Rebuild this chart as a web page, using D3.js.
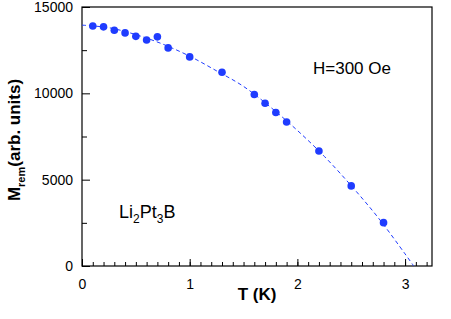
<!DOCTYPE html>
<html>
<head>
<meta charset="utf-8">
<script src="https://cdn.jsdelivr.net/npm/d3@7"></script>
<style>
  body { margin: 0; background: #fff; }
  svg { display: block; font-family: "Liberation Sans", Arial, sans-serif; }
  .axis path, .axis line { stroke: #000; }
  .axis text { font-size: 14px; fill: #000; }
</style>
</head>
<body>
<script>
// measured points
const temps = [0.1, 0.2, 0.3, 0.4, 0.5, 0.6, 0.7, 0.8, 1.0, 1.3, 1.6, 1.7, 1.8, 1.9, 2.2, 2.5, 2.8]
const mrem = [13900, 13850, 13650, 13500, 13300, 13090, 13270, 12630, 12110, 11220, 9930, 9430, 8890, 8340, 6660, 4640, 2510]
// dashed fit curve
const fitT = [0, 0.25, 0.5, 0.75, 1.0, 1.25, 1.5, 1.75, 2.0, 2.25, 2.5, 2.75, 3.0, 3.08]
const fitM = [13950, 13800, 13400, 12850, 12150, 11300, 10400, 9200, 7850, 6350, 4650, 2800, 700, 0]
const xTicks = [0, 1, 2, 3]
const yTicks = [0, 5000, 10000, 15000]

const width = 451, height = 319
const margin = { top: 7, right: 19, bottom: 53, left: 82 }
const w = width - margin.left - margin.right
const h = height - margin.top - margin.bottom
const blue = '#1f3cff'

const svg = d3.select('body').append('svg')
  .attr('width', width).attr('height', height)
const g = svg.append('g')
  .attr('transform', 'translate(' + margin.left + ',' + margin.top + ')')

const x = d3.scaleLinear().domain([0, 3.25]).range([0, w])
const y = d3.scaleLinear().domain([0, 15000]).range([h, 0])

// minor ticks (inward)
g.append('g').attr('class', 'axis')
  .attr('transform', 'translate(0,' + h + ')')
  .call(d3.axisBottom(x).tickValues(d3.range(0, 3.25, 0.1)).tickSize(-4).tickFormat(''))
  .call(a => a.select('.domain').remove())
g.append('g').attr('class', 'axis')
  .call(d3.axisLeft(y).tickValues([2500, 7500, 12500]).tickSize(-5).tickFormat(''))
  .call(a => a.select('.domain').remove())

// major ticks + labels
g.append('g').attr('class', 'axis x')
  .attr('transform', 'translate(0,' + h + ')')
  .call(d3.axisBottom(x).tickValues(xTicks).tickSize(-7).tickPadding(13).tickFormat(d3.format('d')))
  .call(a => a.select('.domain').remove())
g.append('g').attr('class', 'axis y')
  .call(d3.axisLeft(y).tickValues(yTicks).tickSize(-8).tickPadding(9).tickFormat(d3.format('d')))
  .call(a => a.select('.domain').remove())

// frame
g.append('rect')
  .attr('width', w).attr('height', h)
  .attr('fill', 'none').attr('stroke', '#000').attr('stroke-width', 1.2)

// fit line
const line = d3.line()
  .x(d => x(d[0]))
  .y(d => y(d[1]))
  .curve(d3.curveCatmullRom)
g.append('path')
  .datum(fitT.map((t, i) => [t, fitM[i]]))
  .attr('d', line)
  .attr('fill', 'none')
  .attr('stroke', blue)
  .attr('stroke-width', 1)
  .attr('stroke-dasharray', '4,3')

g.selectAll('circle')
  .data(temps.map((t, i) => [t, mrem[i]]))
  .enter().append('circle')
  .attr('cx', d => x(d[0]))
  .attr('cy', d => y(d[1]))
  .attr('r', 3.8)
  .attr('fill', blue)

// labels
svg.append('text')
  .attr('x', 257).attr('y', 300)
  .attr('text-anchor', 'middle')
  .attr('font-size', 17).attr('font-weight', 'bold')
  .text('T (K)')

const yl = svg.append('text')
  .attr('transform', 'translate(20,140) rotate(-90)')
  .attr('text-anchor', 'middle')
  .attr('font-size', 17).attr('font-weight', 'bold')
yl.append('tspan').text('M')
yl.append('tspan').attr('font-size', 11).attr('dy', 5).text('rem')
yl.append('tspan').attr('dy', -5).text('(arb. units)')

svg.append('text')
  .attr('x', 313).attr('y', 74)
  .attr('font-size', 17)
  .text('H=300 Oe')

const comp = svg.append('text')
  .attr('x', 119).attr('y', 218)
  .attr('font-size', 18)
comp.append('tspan').text('Li')
comp.append('tspan').attr('font-size', 12).attr('dy', 5).text('2')
comp.append('tspan').attr('dy', -5).text('Pt')
comp.append('tspan').attr('font-size', 12).attr('dy', 5).text('3')
comp.append('tspan').attr('dy', -5).text('B')
</script>
</body>
</html>
